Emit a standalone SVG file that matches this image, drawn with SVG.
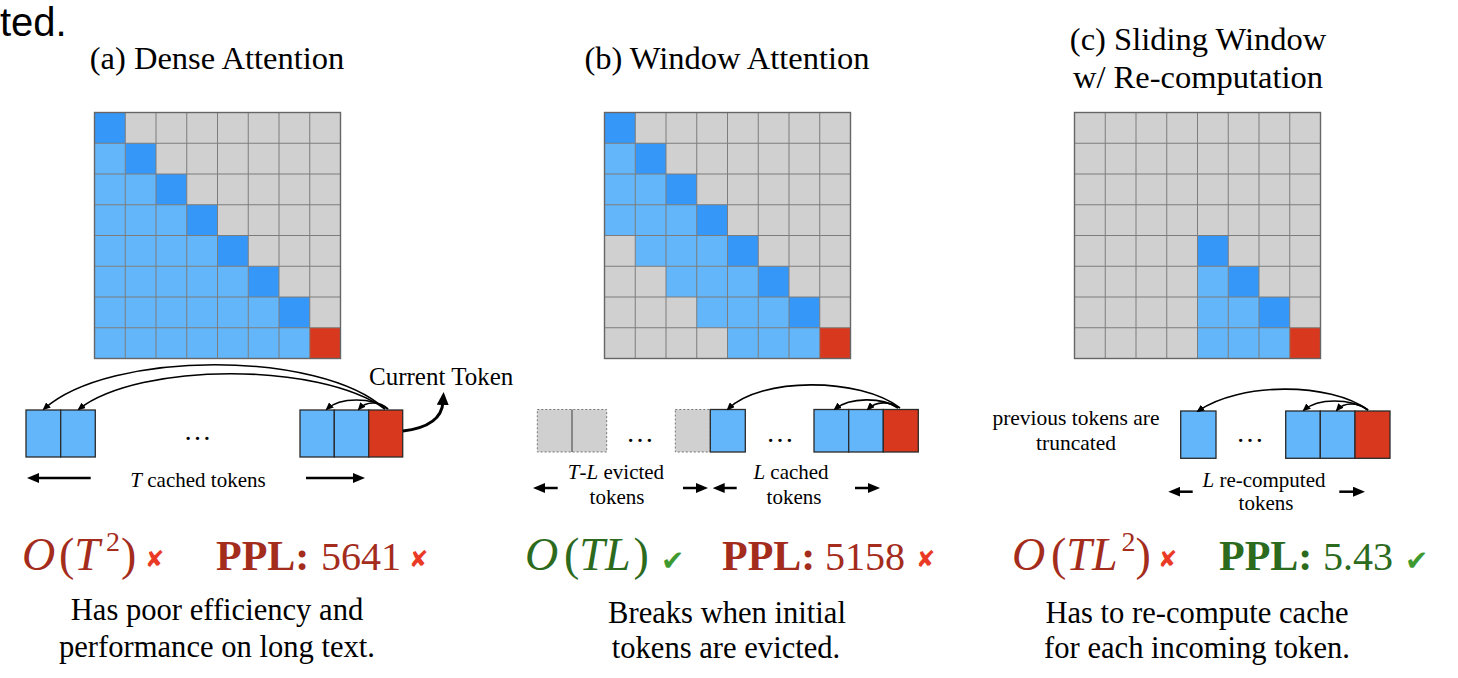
<svg xmlns="http://www.w3.org/2000/svg" width="1458" height="678" viewBox="0 0 1458 678">
<defs>
<style>
.serif{font-family:"Liberation Serif","Times New Roman",serif;fill:#000}
.bg{fill:#D0D0D0}
.lb{fill:#62B6F9}
.db{fill:#3597F8}
.rd{fill:#D8381E}
.grid{fill:none;stroke:#7D7D7D;stroke-width:1}
.frame{fill:none;stroke:#666;stroke-width:1.4}
.tok{stroke:#2A2A2A;stroke-width:1.3}
.ev{fill:#D0D0D0;stroke:#777;stroke-width:1;stroke-dasharray:2 2}
.arc{fill:none;stroke:#000;stroke-width:1.6}
.harr{fill:none;stroke:#000;stroke-width:2.5}
.lbl{font-size:21px}
.desc{font-size:30.6px;text-anchor:middle}
.title{font-size:32.5px;text-anchor:middle}
.big{font-size:42px}
.math{font-size:46px}
.num{font-size:40px}
.redt{fill:#A42C1C}
.grnt{fill:#2C6A1E}
.xm{font-family:"DejaVu Sans",sans-serif;font-size:23px;fill:#EA3A26}
.ck{font-family:"DejaVu Sans",sans-serif;font-size:28px;fill:#3D9930}
</style>
<marker id="ah" viewBox="0 0 8 7" refX="6" refY="3.5" markerWidth="8" markerHeight="7" markerUnits="userSpaceOnUse" orient="auto">
<path d="M0,0 L8,3.5 L0,7 z" fill="#000"/>
</marker>
<marker id="al" viewBox="0 0 12 10" refX="3" refY="5" markerWidth="12" markerHeight="10" markerUnits="userSpaceOnUse" orient="auto">
<path d="M0,0 L12,5 L0,10 z" fill="#000"/>
</marker>
<marker id="ac" viewBox="0 0 13 12" refX="3" refY="6" markerWidth="13" markerHeight="12" markerUnits="userSpaceOnUse" orient="auto">
<path d="M0,0 L13,6 L0,12 z" fill="#000"/>
</marker>
<path id="gridpath" d="M30.75,0V246M61.5,0V246M92.25,0V246M123,0V246M153.75,0V246M184.5,0V246M215.25,0V246M0,30.75H246M0,61.5H246M0,92.25H246M0,123H246M0,153.75H246M0,184.5H246M0,215.25H246"/>
</defs>
<rect width="1458" height="678" fill="#fff"/>

<text x="0" y="36" style="font-family:'Liberation Sans',Arial,sans-serif;font-size:40px;fill:#000">ted.</text>

<g id="title-a"><text class="serif title" x="217" y="69">(a) Dense Attention</text></g>
<g id="title-b"><text class="serif title" x="727" y="69">(b) Window Attention</text></g>
<g id="title-c"><text class="serif title" x="1198" y="50">(c) Sliding Window</text><text class="serif title" x="1198" y="88">w/ Re-computation</text></g>

<g id="matrix-a" transform="translate(94.5,112.5)">
<rect class="bg" width="246" height="246"/>
<rect class="lb" x="0" y="30.75" width="30.75" height="30.75"/>
<rect class="lb" x="0" y="61.5" width="61.5" height="30.75"/>
<rect class="lb" x="0" y="92.25" width="92.25" height="30.75"/>
<rect class="lb" x="0" y="123" width="123" height="30.75"/>
<rect class="lb" x="0" y="153.75" width="153.75" height="30.75"/>
<rect class="lb" x="0" y="184.5" width="184.5" height="30.75"/>
<rect class="lb" x="0" y="215.25" width="215.25" height="30.75"/>
<rect class="db" x="0" y="0" width="30.75" height="30.75"/>
<rect class="db" x="30.75" y="30.75" width="30.75" height="30.75"/>
<rect class="db" x="61.5" y="61.5" width="30.75" height="30.75"/>
<rect class="db" x="92.25" y="92.25" width="30.75" height="30.75"/>
<rect class="db" x="123" y="123" width="30.75" height="30.75"/>
<rect class="db" x="153.75" y="153.75" width="30.75" height="30.75"/>
<rect class="db" x="184.5" y="184.5" width="30.75" height="30.75"/>
<rect class="rd" x="215.25" y="215.25" width="30.75" height="30.75"/>
<use href="#gridpath" class="grid"/>
<rect class="frame" width="246" height="246"/>
</g>

<g id="matrix-b" transform="translate(604.5,112.5)">
<rect class="bg" width="246" height="246"/>
<rect class="lb" x="0" y="30.75" width="30.75" height="30.75"/>
<rect class="lb" x="0" y="61.5" width="61.5" height="30.75"/>
<rect class="lb" x="0" y="92.25" width="92.25" height="30.75"/>
<rect class="lb" x="30.75" y="123" width="92.25" height="30.75"/>
<rect class="lb" x="61.5" y="153.75" width="92.25" height="30.75"/>
<rect class="lb" x="92.25" y="184.5" width="92.25" height="30.75"/>
<rect class="lb" x="123" y="215.25" width="92.25" height="30.75"/>
<rect class="db" x="0" y="0" width="30.75" height="30.75"/>
<rect class="db" x="30.75" y="30.75" width="30.75" height="30.75"/>
<rect class="db" x="61.5" y="61.5" width="30.75" height="30.75"/>
<rect class="db" x="92.25" y="92.25" width="30.75" height="30.75"/>
<rect class="db" x="123" y="123" width="30.75" height="30.75"/>
<rect class="db" x="153.75" y="153.75" width="30.75" height="30.75"/>
<rect class="db" x="184.5" y="184.5" width="30.75" height="30.75"/>
<rect class="rd" x="215.25" y="215.25" width="30.75" height="30.75"/>
<use href="#gridpath" class="grid"/>
<rect class="frame" width="246" height="246"/>
</g>

<g id="matrix-c" transform="translate(1074.5,112.5)">
<rect class="bg" width="246" height="246"/>
<rect class="lb" x="123" y="153.75" width="30.75" height="30.75"/>
<rect class="lb" x="123" y="184.5" width="61.5" height="30.75"/>
<rect class="lb" x="123" y="215.25" width="92.25" height="30.75"/>
<rect class="db" x="123" y="123" width="30.75" height="30.75"/>
<rect class="db" x="153.75" y="153.75" width="30.75" height="30.75"/>
<rect class="db" x="184.5" y="184.5" width="30.75" height="30.75"/>
<rect class="rd" x="215.25" y="215.25" width="30.75" height="30.75"/>
<use href="#gridpath" class="grid"/>
<rect class="frame" width="246" height="246"/>
</g>

<g id="tokens-a">
<rect class="lb tok" x="26" y="410" width="34.7" height="47"/>
<rect class="lb tok" x="60.7" y="410" width="34.6" height="47"/>
<text class="serif" x="197.5" y="440" font-size="28" text-anchor="middle">…</text>
<rect class="lb tok" x="300" y="410" width="34.3" height="47"/>
<rect class="lb tok" x="334.3" y="410" width="34.4" height="47"/>
<rect class="rd tok" x="368.7" y="410" width="34" height="47"/>
</g>
<g id="label-current"><text class="serif" x="369" y="385" font-size="25">Current Token</text></g>
<g id="label-a"><text class="serif lbl" x="198" y="487" text-anchor="middle"><tspan font-style="italic">T</tspan> cached tokens</text></g>

<g id="tokens-b">
<rect class="ev" x="537.3" y="409.5" width="69.4" height="42.5"/>
<line x1="572" y1="409.5" x2="572" y2="452" stroke="#555" stroke-width="1.2"/>
<text class="serif" x="640" y="442" font-size="28" text-anchor="middle">…</text>
<rect class="ev" x="675.3" y="409.5" width="35" height="42.5"/>
<rect class="lb tok" x="710.3" y="409.5" width="35" height="42.5"/>
<text class="serif" x="780" y="442" font-size="28" text-anchor="middle">…</text>
<rect class="lb tok" x="814" y="409.5" width="34.7" height="42.5"/>
<rect class="lb tok" x="848.7" y="409.5" width="34.6" height="42.5"/>
<rect class="rd tok" x="883.3" y="409.5" width="35" height="42.5"/>
</g>
<g id="label-b1"><text class="serif lbl" x="616" y="479" text-anchor="middle"><tspan font-style="italic">T</tspan>-<tspan font-style="italic">L</tspan> evicted</text><text class="serif lbl" x="617" y="504" text-anchor="middle">tokens</text></g>
<g id="label-b2"><text class="serif lbl" x="791" y="479" text-anchor="middle"><tspan font-style="italic">L</tspan> cached</text><text class="serif lbl" x="794" y="504" text-anchor="middle">tokens</text></g>

<g id="tokens-c">
<rect class="lb tok" x="1180.7" y="411" width="35.3" height="47.3"/>
<text class="serif" x="1250" y="442" font-size="28" text-anchor="middle">…</text>
<rect class="lb tok" x="1285.7" y="411" width="34.6" height="47.3"/>
<rect class="lb tok" x="1320.3" y="411" width="34.7" height="47.3"/>
<rect class="rd tok" x="1355" y="411" width="35" height="47.3"/>
</g>
<g id="label-trunc"><text class="serif" x="1076" y="425" font-size="21.5" text-anchor="middle">previous tokens are</text><text class="serif" x="1076" y="450" font-size="21.5" text-anchor="middle">truncated</text></g>
<g id="label-c"><text class="serif lbl" x="1264" y="487" text-anchor="middle"><tspan font-style="italic">L</tspan> re-computed</text><text class="serif lbl" x="1266" y="509.5" text-anchor="middle">tokens</text></g>

<g id="connectors">
<path class="arc" marker-end="url(#ah)" d="M385,409 C320,350 110,350 44,409"/>
<path class="arc" marker-end="url(#ah)" d="M385,409 C320,362 140,362 79,409"/>
<path class="arc" marker-end="url(#ah)" d="M388,409 C372,397 340,397 327,409"/>
<path class="arc" marker-end="url(#ah)" d="M388,409 C380,401 366,401 359,409"/>
<path fill="none" stroke="#000" stroke-width="3" marker-end="url(#ac)" d="M403,431 C428,428 442,418 443,402"/>
<path class="harr" marker-end="url(#al)" d="M90.7,478 L36,478"/>
<path class="harr" marker-end="url(#al)" d="M306,478 L356,478"/>

<path class="arc" marker-end="url(#ah)" d="M900,408 C860,377 760,377 728,409"/>
<path class="arc" marker-end="url(#ah)" d="M898,408 C882,397 850,397 835,409"/>
<path class="arc" marker-end="url(#ah)" d="M898,408 C890,401 876,401 868,409"/>
<path class="harr" marker-end="url(#al)" d="M557.7,488 L542,488"/>
<path class="harr" marker-end="url(#al)" d="M683,488 L699,488"/>
<path class="harr" marker-end="url(#al)" d="M736.7,488 L721.7,488"/>
<path class="harr" marker-end="url(#al)" d="M855,488 L871,488"/>

<path class="arc" marker-end="url(#ah)" d="M1368,410 C1330,382 1240,382 1198,411"/>
<path class="arc" marker-end="url(#ah)" d="M1368,410 C1350,398 1318,398 1304,410"/>
<path class="arc" marker-end="url(#ah)" d="M1368,410 C1358,402 1344,402 1337,410"/>
<path class="harr" marker-end="url(#al)" d="M1192.7,491.7 L1177.3,491.7"/>
<path class="harr" marker-end="url(#al)" d="M1339.3,491.7 L1356,491.7"/>
</g>

<g id="metrics-a">
<text class="serif math redt" x="22" y="570"><tspan font-style="italic">O</tspan><tspan x="59">(</tspan><tspan font-style="italic">T</tspan><tspan dx="6" dy="-19" font-size="28">2</tspan><tspan dx="1" dy="19">)</tspan></text>
<text class="xm" x="145" y="567">✘</text>
<text class="serif big redt" x="216" y="570"><tspan font-weight="bold">PPL:</tspan></text>
<text class="serif num redt" x="321" y="570">5641</text>
<text class="xm" x="409" y="567">✘</text>
</g>
<g id="desc-a"><text class="serif desc" x="217" y="620">Has poor efficiency and</text><text class="serif desc" x="217" y="657">performance on long text.</text></g>

<g id="metrics-b">
<text class="serif math grnt" x="525" y="570"><tspan font-style="italic">O</tspan><tspan x="564">(</tspan><tspan font-style="italic">TL</tspan><tspan dx="3">)</tspan></text>
<text class="ck" x="661" y="570">✔</text>
<text class="serif big redt" x="722" y="570"><tspan font-weight="bold">PPL:</tspan></text>
<text class="serif num redt" x="825" y="570">5158</text>
<text class="xm" x="916" y="567">✘</text>
</g>
<g id="desc-b"><text class="serif desc" x="727" y="623">Breaks when initial</text><text class="serif desc" x="726" y="658">tokens are evicted.</text></g>

<g id="metrics-c">
<text class="serif math redt" x="1012" y="570"><tspan font-style="italic">O</tspan><tspan x="1051">(</tspan><tspan font-style="italic">TL</tspan><tspan dx="4" dy="-19" font-size="28">2</tspan><tspan dy="19">)</tspan></text>
<text class="xm" x="1158" y="567">✘</text>
<text class="serif big grnt" x="1219" y="570"><tspan font-weight="bold">PPL:</tspan></text>
<text class="serif num grnt" x="1323" y="570">5.43</text>
<text class="ck" x="1405" y="570">✔</text>
</g>
<g id="desc-c"><text class="serif desc" x="1197" y="623">Has to re-compute cache</text><text class="serif desc" x="1197" y="658">for each incoming token.</text></g>
</svg>
